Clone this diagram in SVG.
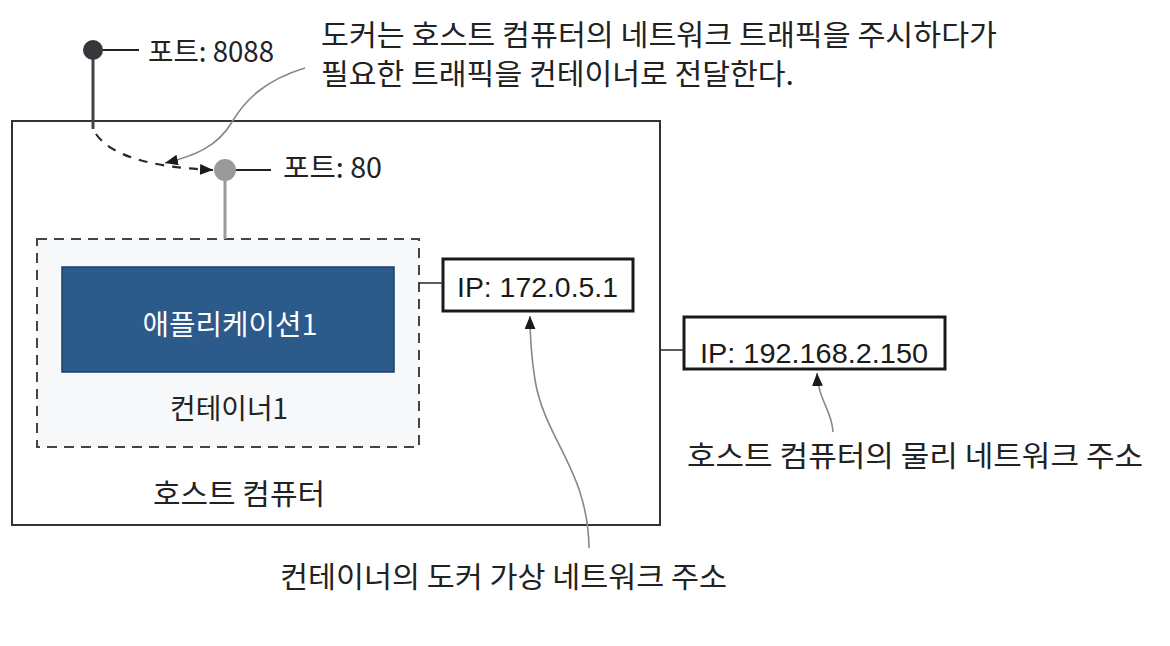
<svg xmlns="http://www.w3.org/2000/svg" width="1170" height="646" viewBox="0 0 1170 646">
<defs>
<style>
.t{font-family:"Noto Sans CJK KR","Liberation Sans",sans-serif;fill:#222;}
.ip{font-family:"Liberation Sans",Arial,sans-serif;font-size:28px;fill:#1a1a1a;}
.conn{fill:none;stroke:#333;stroke-width:1.6;}
.note{fill:none;stroke:#888;stroke-width:1.6;}
</style>
<marker id="ah" viewBox="0 0 12 10" refX="12" refY="5" markerWidth="13" markerHeight="11" markerUnits="userSpaceOnUse" orient="auto">
<path d="M0,0 L12,5 L0,10 Z" fill="#1a1a1a"/>
</marker>
</defs>
<rect width="1170" height="646" fill="#ffffff"/>

<g id="host">
<rect x="12" y="121" width="648" height="404" fill="#ffffff" stroke="#333" stroke-width="2"/>
<text class="t" x="239" y="505" font-size="29" text-anchor="middle" textLength="172" lengthAdjust="spacingAndGlyphs">호스트 컴퓨터</text>
</g>

<g id="container1">
<rect x="37" y="239" width="382" height="208" fill="#f6f8fa" stroke="#444" stroke-width="2" stroke-dasharray="10,7"/>
<text class="t" x="229" y="419" font-size="28" text-anchor="middle" textLength="118" lengthAdjust="spacingAndGlyphs">컨테이너1</text>
</g>

<g id="app1">
<rect x="62" y="267" width="332" height="105" fill="#2c5a8b" stroke="#1f3f66" stroke-width="1.5"/>
<text class="t" x="230" y="335" font-size="28" text-anchor="middle" textLength="175" lengthAdjust="spacingAndGlyphs" style="fill:#ffffff">애플리케이션1</text>
</g>

<g id="port8088">
<line x1="93" y1="50" x2="93" y2="129" stroke="#4a4048" stroke-width="3"/>
<circle cx="93" cy="50" r="10" fill="#38363a"/>
<line x1="103" y1="50" x2="139" y2="50" stroke="#222" stroke-width="2"/>
<text class="t" x="148" y="62" font-size="28" textLength="126" lengthAdjust="spacingAndGlyphs">포트: 8088</text>
</g>

<g id="port80">
<line x1="225" y1="170" x2="225" y2="239" stroke="#9a9a9a" stroke-width="3"/>
<circle cx="225" cy="170" r="11" fill="#9a9a9a"/>
<line x1="236" y1="170" x2="271" y2="170" stroke="#222" stroke-width="2"/>
<text class="t" x="283" y="178" font-size="28" textLength="99" lengthAdjust="spacingAndGlyphs">포트: 80</text>
</g>

<g id="ip1">
<rect x="443" y="259" width="190" height="52" fill="#ffffff" stroke="#1a1a1a" stroke-width="3"/>
<text class="ip" x="457" y="297" textLength="161" lengthAdjust="spacingAndGlyphs">IP: 172.0.5.1</text>
</g>

<g id="ip2">
<rect x="684" y="317" width="261" height="52" fill="#ffffff" stroke="#1a1a1a" stroke-width="3"/>
<text class="ip" x="700" y="363" textLength="228" lengthAdjust="spacingAndGlyphs">IP: 192.168.2.150</text>
</g>

<g id="note-top">
<text class="t" x="321" y="46" font-size="29" textLength="676" lengthAdjust="spacingAndGlyphs">도커는 호스트 컴퓨터의 네트워크 트래픽을 주시하다가</text>
<text class="t" x="321" y="85" font-size="29" textLength="473" lengthAdjust="spacingAndGlyphs">필요한 트래픽을 컨테이너로 전달한다.</text>
</g>

<g id="note-host-ip">
<text class="t" x="687" y="467" font-size="29" textLength="456" lengthAdjust="spacingAndGlyphs">호스트 컴퓨터의 물리 네트워크 주소</text>
</g>

<g id="note-container-ip">
<text class="t" x="280" y="588" font-size="29" textLength="447" lengthAdjust="spacingAndGlyphs">컨테이너의 도커 가상 네트워크 주소</text>
</g>

<g id="connectors">
<line class="conn" x1="419" y1="283" x2="443" y2="283"/>
<line class="conn" x1="660" y1="350" x2="684" y2="350"/>
<path d="M96,134 Q118,166 213,170" fill="none" stroke="#2a2a2a" stroke-width="2.2" stroke-dasharray="9,8" marker-end="url(#ah)"/>
<path class="note" d="M305,68 C265,80 245,100 232,122 C218,146 195,156 165,163" marker-end="url(#ah)"/>
<path class="note" d="M589,548 C588,470 545,440 535,380 C531,355 530,340 530,316" marker-end="url(#ah)"/>
<path class="note" d="M833,432 C832,410 818,400 817,373" marker-end="url(#ah)"/>
</g>
</svg>
